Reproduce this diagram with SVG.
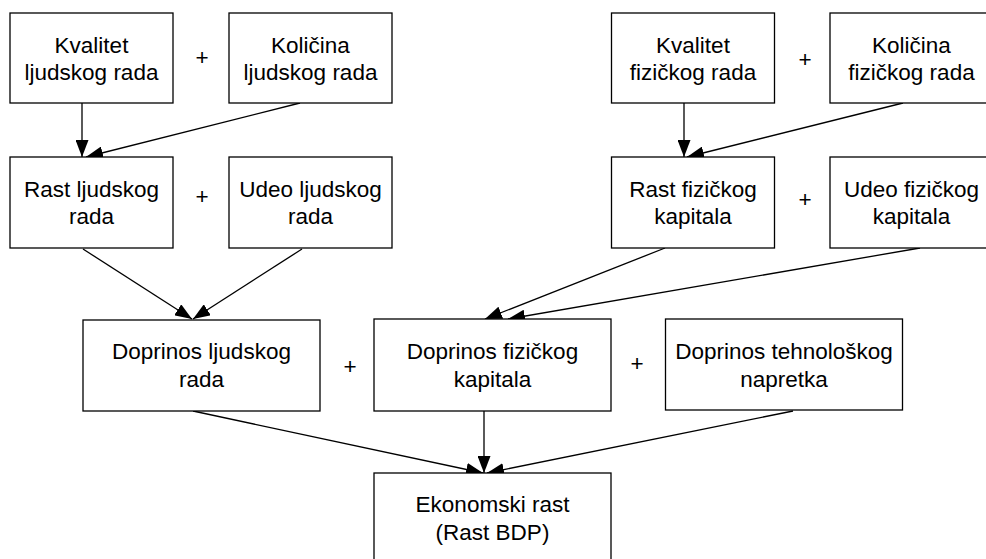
<svg xmlns="http://www.w3.org/2000/svg" width="986" height="559" viewBox="0 0 986 559">
<defs>
<style>
.box{fill:#fff;stroke:#000;stroke-width:1.3}
.t{font-family:"Liberation Sans",Arial,sans-serif;font-size:22.5px;fill:#000;text-anchor:middle}
.c{fill:none;stroke:#000;stroke-width:1.3;marker-end:url(#ah)}
</style>
<marker id="ah" markerUnits="userSpaceOnUse" markerWidth="18" markerHeight="13" refX="17" refY="6.5" orient="auto">
<path d="M0,0 L17,6.5 L0,13 z" fill="#000"/>
</marker>
</defs>
<rect width="986" height="559" fill="#fff"/>
<g id="connectors">
<line class="c" x1="82" y1="103" x2="82" y2="157"/>
<line class="c" x1="300" y1="103" x2="86" y2="157"/>
<line class="c" x1="83" y1="249" x2="192" y2="319"/>
<line class="c" x1="302" y1="249" x2="193" y2="319"/>
<line class="c" x1="684" y1="103" x2="684" y2="157"/>
<line class="c" x1="903" y1="103" x2="687" y2="157"/>
<line class="c" x1="665" y1="248" x2="485" y2="319"/>
<line class="c" x1="920" y1="248" x2="508" y2="319"/>
<line class="c" x1="193" y1="411" x2="483" y2="473"/>
<line class="c" x1="484" y1="411" x2="484" y2="473"/>
<line class="c" x1="793" y1="411" x2="487" y2="473"/>
</g>
<g id="n1"><rect class="box" x="10" y="13" width="163" height="90"/><text class="t" x="91.5" y="53">Kvalitet</text><text class="t" x="91.5" y="80">ljudskog rada</text></g>
<g id="n2"><rect class="box" x="229" y="13" width="163" height="90"/><text class="t" x="310.5" y="53">Količina</text><text class="t" x="310.5" y="80">ljudskog rada</text></g>
<g id="n3"><rect class="box" x="611.5" y="13" width="163" height="90"/><text class="t" x="693" y="53">Kvalitet</text><text class="t" x="693" y="80">fizičkog rada</text></g>
<g id="n4"><rect class="box" x="830" y="13" width="163" height="90"/><text class="t" x="911.5" y="53">Količina</text><text class="t" x="911.5" y="80">fizičkog rada</text></g>
<g id="n5"><rect class="box" x="10" y="157" width="163" height="91"/><text class="t" x="91.5" y="197">Rast ljudskog</text><text class="t" x="91.5" y="224">rada</text></g>
<g id="n6"><rect class="box" x="229" y="157" width="163" height="91"/><text class="t" x="310.5" y="197">Udeo ljudskog</text><text class="t" x="310.5" y="224">rada</text></g>
<g id="n7"><rect class="box" x="611.5" y="157" width="163" height="91"/><text class="t" x="693" y="197">Rast fizičkog</text><text class="t" x="693" y="224">kapitala</text></g>
<g id="n8"><rect class="box" x="830" y="157" width="163" height="91"/><text class="t" x="911.5" y="197">Udeo fizičkog</text><text class="t" x="911.5" y="224">kapitala</text></g>
<g id="n9"><rect class="box" x="83" y="320" width="237" height="91"/><text class="t" x="201.5" y="358.5">Doprinos ljudskog</text><text class="t" x="201.5" y="386.5">rada</text></g>
<g id="n10"><rect class="box" x="374" y="319" width="237" height="92"/><text class="t" x="492.5" y="358.5">Doprinos fizičkog</text><text class="t" x="492.5" y="386.5">kapitala</text></g>
<g id="n11"><rect class="box" x="665.5" y="319" width="237" height="91"/><text class="t" x="784" y="358.5">Doprinos tehnološkog</text><text class="t" x="784" y="386.5">napretka</text></g>
<g id="n12"><rect class="box" x="374" y="473" width="237" height="92"/><text class="t" x="492.5" y="512">Ekonomski rast</text><text class="t" x="492.5" y="540">(Rast BDP)</text></g>
<g id="plus">
<text class="t" x="202" y="65">+</text>
<text class="t" x="202" y="204">+</text>
<text class="t" x="805" y="67">+</text>
<text class="t" x="805" y="207">+</text>
<text class="t" x="350" y="374">+</text>
<text class="t" x="637" y="371">+</text>
</g>
</svg>
